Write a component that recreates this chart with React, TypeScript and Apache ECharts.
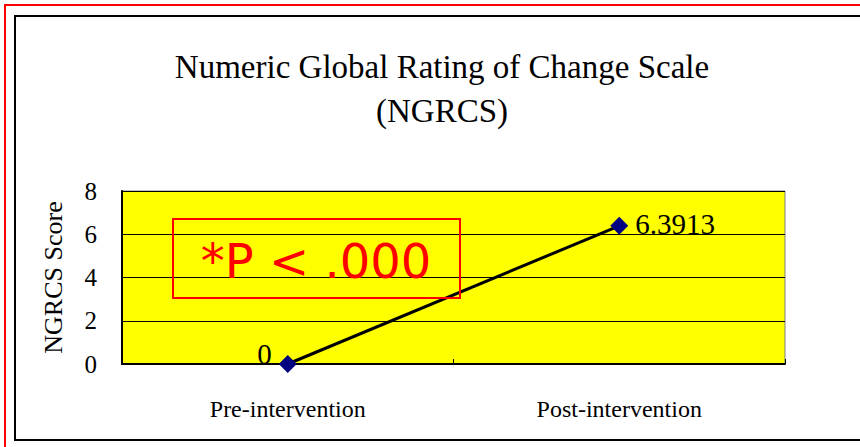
import React, { useEffect, useRef } from "react";
import * as echarts from "echarts";

const categories = ["Pre-intervention", "Post-intervention"];
const scores = [0, 6.3913];
const titleLines = ["Numeric Global Rating of Change Scale", "(NGRCS)"];
const yAxisName = "NGRCS Score";
const yMin = 0;
const yMax = 8;
const yInterval = 2;
const annotation = "*P < .000";

const SERIF = "Liberation Serif";

export default function App() {
  const ref = useRef<HTMLDivElement>(null);
  useEffect(() => {
    if (!ref.current) return;
    const chart = echarts.init(ref.current, null, { renderer: "svg" });
    chart.setOption({
      animation: false,
      backgroundColor: "#ffffff",
      title: {
        text: titleLines.join("\n"),
        left: 437,
        top: 40,
        textAlign: "center",
        textStyle: {
          fontFamily: SERIF,
          fontSize: 33,
          fontWeight: "normal",
          color: "#000000",
          lineHeight: 44,
        },
      },
      grid: {
        left: 122,
        top: 191,
        width: 663,
        height: 173,
        show: true,
        backgroundColor: "#FFFF00",
        borderColor: "#808080",
        borderWidth: 1,
      },
      xAxis: {
        type: "category",
        data: categories,
        boundaryGap: true,
        axisLine: { show: true, lineStyle: { color: "#000000", width: 2 } },
        axisTick: { show: true, inside: true, length: 5, lineStyle: { color: "#000000" } },
        axisLabel: {
          fontFamily: SERIF,
          fontSize: 24,
          color: "#000000",
          margin: 33,
        },
      },
      yAxis: {
        type: "value",
        min: yMin,
        max: yMax,
        interval: yInterval,
        name: yAxisName,
        nameLocation: "middle",
        nameRotate: 90,
        nameGap: 56,
        nameTextStyle: { fontFamily: SERIF, fontSize: 26, color: "#000000" },
        axisLine: { show: true, lineStyle: { color: "#000000", width: 2 } },
        axisTick: { show: true, inside: true, length: 5, lineStyle: { color: "#000000" } },
        axisLabel: { fontFamily: SERIF, fontSize: 25, color: "#000000", margin: 25 },
        splitLine: { show: true, lineStyle: { color: "#000000", width: 1 } },
      },
      series: [
        {
          type: "line",
          data: scores.map((v, i) => ({
            value: v,
            label:
              i === 0
                ? { position: "left", offset: [0, -10] }
                : { position: "right", offset: [0, -2] },
          })),
          lineStyle: { color: "#000000", width: 3 },
          symbol: "diamond",
          symbolSize: 18,
          itemStyle: { color: "#000080" },
          label: {
            show: true,
            distance: 7,
            fontFamily: SERIF,
            fontSize: 29,
            color: "#000000",
            formatter: (p: any) => String(p.value),
          },
          z: 5,
        },
      ],
      graphic: [
        {
          type: "rect",
          shape: { x: 5, y: 5, width: 900, height: 500 },
          style: { fill: "none", stroke: "#FF0000", lineWidth: 2 },
          silent: true,
        },
        {
          type: "rect",
          shape: { x: 15, y: 16, width: 900, height: 424 },
          style: { fill: "none", stroke: "#000000", lineWidth: 2 },
          silent: true,
        },
        {
          type: "rect",
          shape: { x: 173, y: 219, width: 287, height: 79 },
          style: { fill: "none", stroke: "#FF0000", lineWidth: 2 },
          z: 10,
          silent: true,
        },
        {
          type: "text",
          x: 316,
          y: 261,
          style: {
            text: annotation,
            fill: "#FF0000",
            font: "48px 'DejaVu Sans', sans-serif",
            align: "center",
            verticalAlign: "middle",
          },
          z: 10,
          silent: true,
        },
      ],
    });
    return () => chart.dispose();
  }, []);
  return (
    <div
      ref={ref}
      style={{ position: "fixed", left: 0, top: 0, width: 860, height: 447 }}
    />
  );
}
